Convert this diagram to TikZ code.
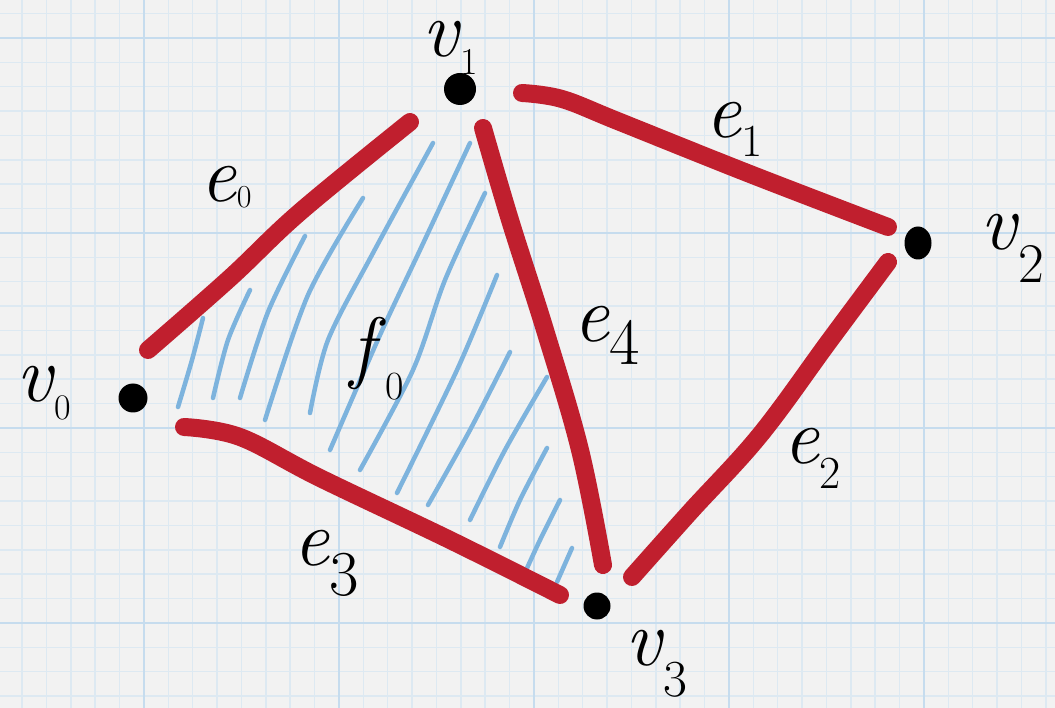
\documentclass[tikz,border=0pt]{standalone}
\usetikzlibrary{shapes.geometric}
\definecolor{paper}{HTML}{F2F2F2}
\definecolor{gridminor}{HTML}{DDE9F2}
\definecolor{gridmajor}{HTML}{C6DCEE}
\definecolor{edgered}{HTML}{C01F2E}
\definecolor{hatchblue}{HTML}{7DB3DD}
\newcommand\hwlab[4]{\textit{#1}\raisebox{-#3}{\fontsize{#4}{#4}\selectfont #2}}
\begin{document}
\begin{tikzpicture}[x=1pt,y=-1pt,
  redge/.style={draw=edgered,line width=18pt,line cap=round,line join=round},
  hatch/.style={draw=hatchblue,line width=4.5pt,line cap=round,line join=round},
  vdot/.style={fill=black,inner sep=0pt},
  lbl/.style={anchor=base west,inner sep=0pt,font=\fontsize{80}{80}\selectfont}]
\useasboundingbox (0,0) rectangle (1055,708);
\fill[paper] (0,0) rectangle (1055,708);
% grid
\foreach \k in {0,...,43} \draw[gridminor,line width=1.5pt] ({22.1+24.375*\k},0) -- ({22.1+24.375*\k},708);
\foreach \k in {0,...,28} \draw[gridminor,line width=1.5pt] (0,{13.6+24.375*\k}) -- (1055,{13.6+24.375*\k});
\foreach \k in {0,...,4} \draw[gridmajor,line width=2.6pt] ({144+195*\k},0) -- ({144+195*\k},708);
\foreach \k in {0,...,3} \draw[gridmajor,line width=2.6pt] (0,{38+195*\k}) -- (1055,{38+195*\k});
% hatching of face f0
\draw[hatch] plot[smooth,tension=0.5] coordinates {(203,318) (192,360) (178,407)};
\draw[hatch] plot[smooth,tension=0.5] coordinates {(250,290) (228,340) (213,398)};
\draw[hatch] plot[smooth,tension=0.5] coordinates {(305,236) (268,312) (240,398)};
\draw[hatch] plot[smooth,tension=0.5] coordinates {(363,198) (308,295) (265,420)};
\draw[hatch] plot[smooth,tension=0.5] coordinates {(433,143) (373,253) (328,340) (310,413)};
\draw[hatch] plot[smooth,tension=0.5] coordinates {(470,143) (420,250) (380,335) (330,450)};
\draw[hatch] plot[smooth,tension=0.5] coordinates {(485,193) (445,280) (413,370) (360,470)};
\draw[hatch] plot[smooth,tension=0.5] coordinates {(497,275) (457,370) (397,493)};
\draw[hatch] plot[smooth,tension=0.5] coordinates {(510,352) (470,430) (428,505)};
\draw[hatch] plot[smooth,tension=0.5] coordinates {(547,377) (505,450) (470,520)};
\draw[hatch] plot[smooth,tension=0.5] coordinates {(547,448) (520,500) (500,547)};
\draw[hatch] plot[smooth,tension=0.5] coordinates {(560,500) (540,540) (523,577)};
\draw[hatch] plot[smooth,tension=0.5] coordinates {(572,548) (557,582)};
% edges
\draw[redge] plot[smooth,tension=0.6] coordinates {(148,350) (230,278) (300,212) (410,122)};
\draw[redge] plot[smooth,tension=0.6] coordinates {(522,93) (562,99) (620,122) (750,174) (888,227)};
\draw[redge] plot[smooth,tension=0.6] coordinates {(888,262) (830,340) (760,435) (690,512) (632,577)};
\draw[redge] plot[smooth,tension=0.6] coordinates {(184,427) (240,437) (320,478) (450,540) (560,595)};
\draw[redge] plot[smooth,tension=0.6] coordinates {(483,128) (510,220) (545,330) (580,450) (603,565)};
% vertices
\node[vdot,circle,minimum size=29pt] (v0) at (133,398) {};
\node[vdot,circle,minimum size=32pt] (v1) at (460,89) {};
\node[vdot,ellipse,minimum width=27pt,minimum height=33pt] (v2) at (918,243) {};
\node[vdot,circle,minimum size=27pt] (v3) at (597,606) {};
% labels
\node[lbl] (lv1) at (422,57) {\hwlab{v}{1}{18pt}{38}};
\node[lbl] (lv2) at (980,250) {\hwlab{v}{2}{33pt}{56}};
\node[lbl] (lv0) at (16,402) {\hwlab{v}{0}{18pt}{36}};
\node[lbl] (lv3) at (625,665) {\hwlab{v}{3}{31pt}{52}};
\node[lbl] (le0) at (200,202) {\hwlab{e}{0}{6pt}{32}};
\node[lbl] (le1) at (705,138) {\hwlab{e}{1}{19pt}{46}};
\node[lbl] (le2) at (783,463) {\hwlab{e}{2}{25pt}{46}};
\node[lbl] (le3) at (293,565) {\hwlab{e}{3}{30pt}{64}};
\node[lbl] (le4) at (573,342) {\hwlab{e}{4}{23pt}{66}};
\node[lbl] (lf0) at (350,374) {\hwlab{f}{0}{26pt}{40}};
\end{tikzpicture}
\end{document}
